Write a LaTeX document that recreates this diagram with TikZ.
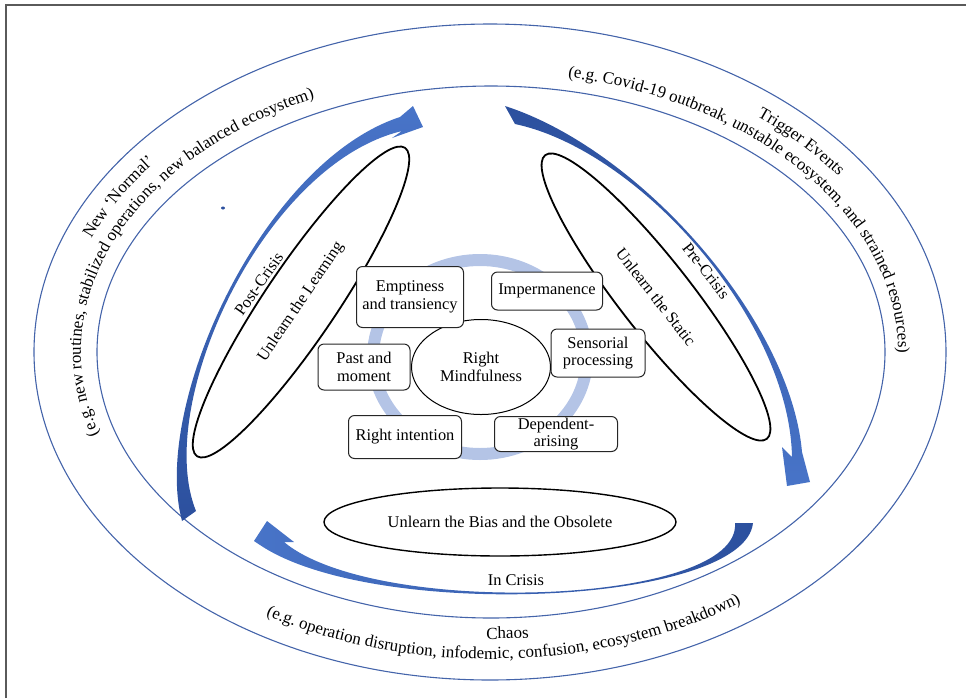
\documentclass[tikz,border=0pt]{standalone}
\usepackage{fontspec}
\setmainfont{Liberation Serif}
\usetikzlibrary{shapes.geometric,decorations.text}
\definecolor{ringline}{RGB}{68,100,170}
\definecolor{ringfill}{RGB}{180,196,230}
\definecolor{arrowdark}{RGB}{44,80,158}
\definecolor{arrowlight}{RGB}{72,116,200}
\definecolor{framegray}{RGB}{90,90,90}
\newcommand\lblfont{\fontsize{8.2}{8.9}\selectfont}
\newcommand\arcfont{\fontsize{8.5}{10}\selectfont}

\begin{document}
\begin{tikzpicture}[x=0.5pt,y=0.5pt,
  curved/.style={decorate, decoration={text along path, text={|\arcfont|#1}}}]
  \tikzstyle{box}=[draw=black!85, fill=white, rounded corners=3pt, align=center, inner sep=0pt, font=\lblfont, line width=0.5pt]
  \tikzstyle{oval}=[ellipse, draw=black, fill=white, align=center, inner sep=0pt, font=\lblfont]
  \tikzstyle{lens}=[ellipse, draw=black, line width=0.9pt, inner sep=0pt, font=\lblfont]
  \tikzstyle{orbit}=[draw=ringline, line width=0.55pt]
  \tikzstyle{tag}=[font=\lblfont, inner sep=1pt]
  \useasboundingbox (0,0) rectangle (966,-698);
  \draw[framegray, line width=1pt] (6,-698) -- (6,-5) -- (966,-5);
  \draw[orbit] (490,-352) ellipse [x radius=456, y radius=328];
  \draw[orbit] (491,-352) ellipse [x radius=394, y radius=266];
  \draw[ringfill, line width=6pt] (480,-357) ellipse [x radius=107, y radius=97];
  \shade[top color=arrowdark, bottom color=arrowlight]
    (505,-106) .. controls (640,-149.5) and (790.5,-320) .. (802,-452)
    -- (810,-482) -- (787,-486) -- (782,-447) -- (792,-457)
    .. controls (789.5,-320) and (639.9,-150.5) .. (515,-124) -- cycle;
  \shade[left color=arrowlight, right color=arrowdark]
    (753,-523) .. controls (744.5,-605) and (374,-621.5) .. (260,-545)
    -- (254,-541) -- (267,-521) -- (294,-542) -- (284,-542)
    .. controls (376,-618.5) and (741.5,-605) .. (735,-523) -- cycle;
  \shade[top color=arrowlight, bottom color=arrowdark]
    (182,-521) .. controls (151,-405.3) and (262.7,-162) .. (400,-117)
    -- (413,-106) -- (423,-127) -- (392,-138) -- (402,-131)
    .. controls (263.3,-164) and (153,-404.7) .. (196,-511) -- cycle;
  \fill[arrowdark] (223,-208) ellipse [x radius=2, y radius=1.5];
  \node[lens, rotate=56, minimum width=186pt, minimum height=36pt] (learn) at (301,-302) {Unlearn the Learning};
  \node[lens, rotate=-52, minimum width=180pt, minimum height=36pt] (static) at (656,-297) {Unlearn the Static};
  \node[oval, line width=0.7pt, minimum width=176pt, minimum height=34pt] (bias) at (500,-522) {Unlearn the Bias and the Obsolete};
  \node[oval, line width=0.5pt, minimum width=69.5pt, minimum height=47.5pt] (mind) at (481,-367) {Right\\Mindfulness};
  \foreach \n/\x/\y/\w/\h/\t in {
    empt/410/297/53.5/30.5/{Emptiness\\and transiency},
    imperm/547/291/55.5/19/Impermanence,
    sens/598/353/47/24/{Sensorial\\processing},
    past/364/367/46/23/{Past and\\moment},
    rint/405/437/56.5/21.5/Right intention,
    dep/556/434/61.5/17.5/{Dependent-\\arising}}
    \node[box, minimum width=\w pt, minimum height=\h pt] (\n) at (\x,-\y) {\t};
  \node[tag, rotate=55] (post) at (259,-284) {Post-Crisis};
  \node[tag, rotate=-52] (pre) at (706,-271) {Pre-Crisis};
  \node[tag] (incrisis) at (516,-580) {In Crisis};
  \path[curved={New ‘Normal’}] (490,-352) ++(158:430 and 302)
    arc[start angle=158, end angle=100, x radius=430, y radius=302];
  \path[curved={(e.g. new routines, stabilized operations, new balanced ecosystem)}] (490,-352) ++(197:409 and 281)
    arc[start angle=197, end angle=70, x radius=409, y radius=281];
  \path[curved={Trigger Events}] (490,-352) ++(51.5:429 and 301)
    arc[start angle=51.5, end angle=-10, x radius=429, y radius=301];
  \path[curved={(e.g. Covid-19 outbreak, unstable ecosystem, and strained resources)}] (490,-352) ++(79:408 and 280)
    arc[start angle=79, end angle=-40, x radius=408, y radius=280];
  \path[curved={Chaos}] (490,-352) ++(269.5:415 and 287)
    arc[start angle=269.5, end angle=320, x radius=415, y radius=287];
  \path[curved={(e.g. operation disruption, infodemic, confusion, ecosystem breakdown)}] (490,-352) ++(239:435 and 307)
    arc[start angle=239, end angle=340, x radius=435, y radius=307];
\end{tikzpicture}
\end{document}
